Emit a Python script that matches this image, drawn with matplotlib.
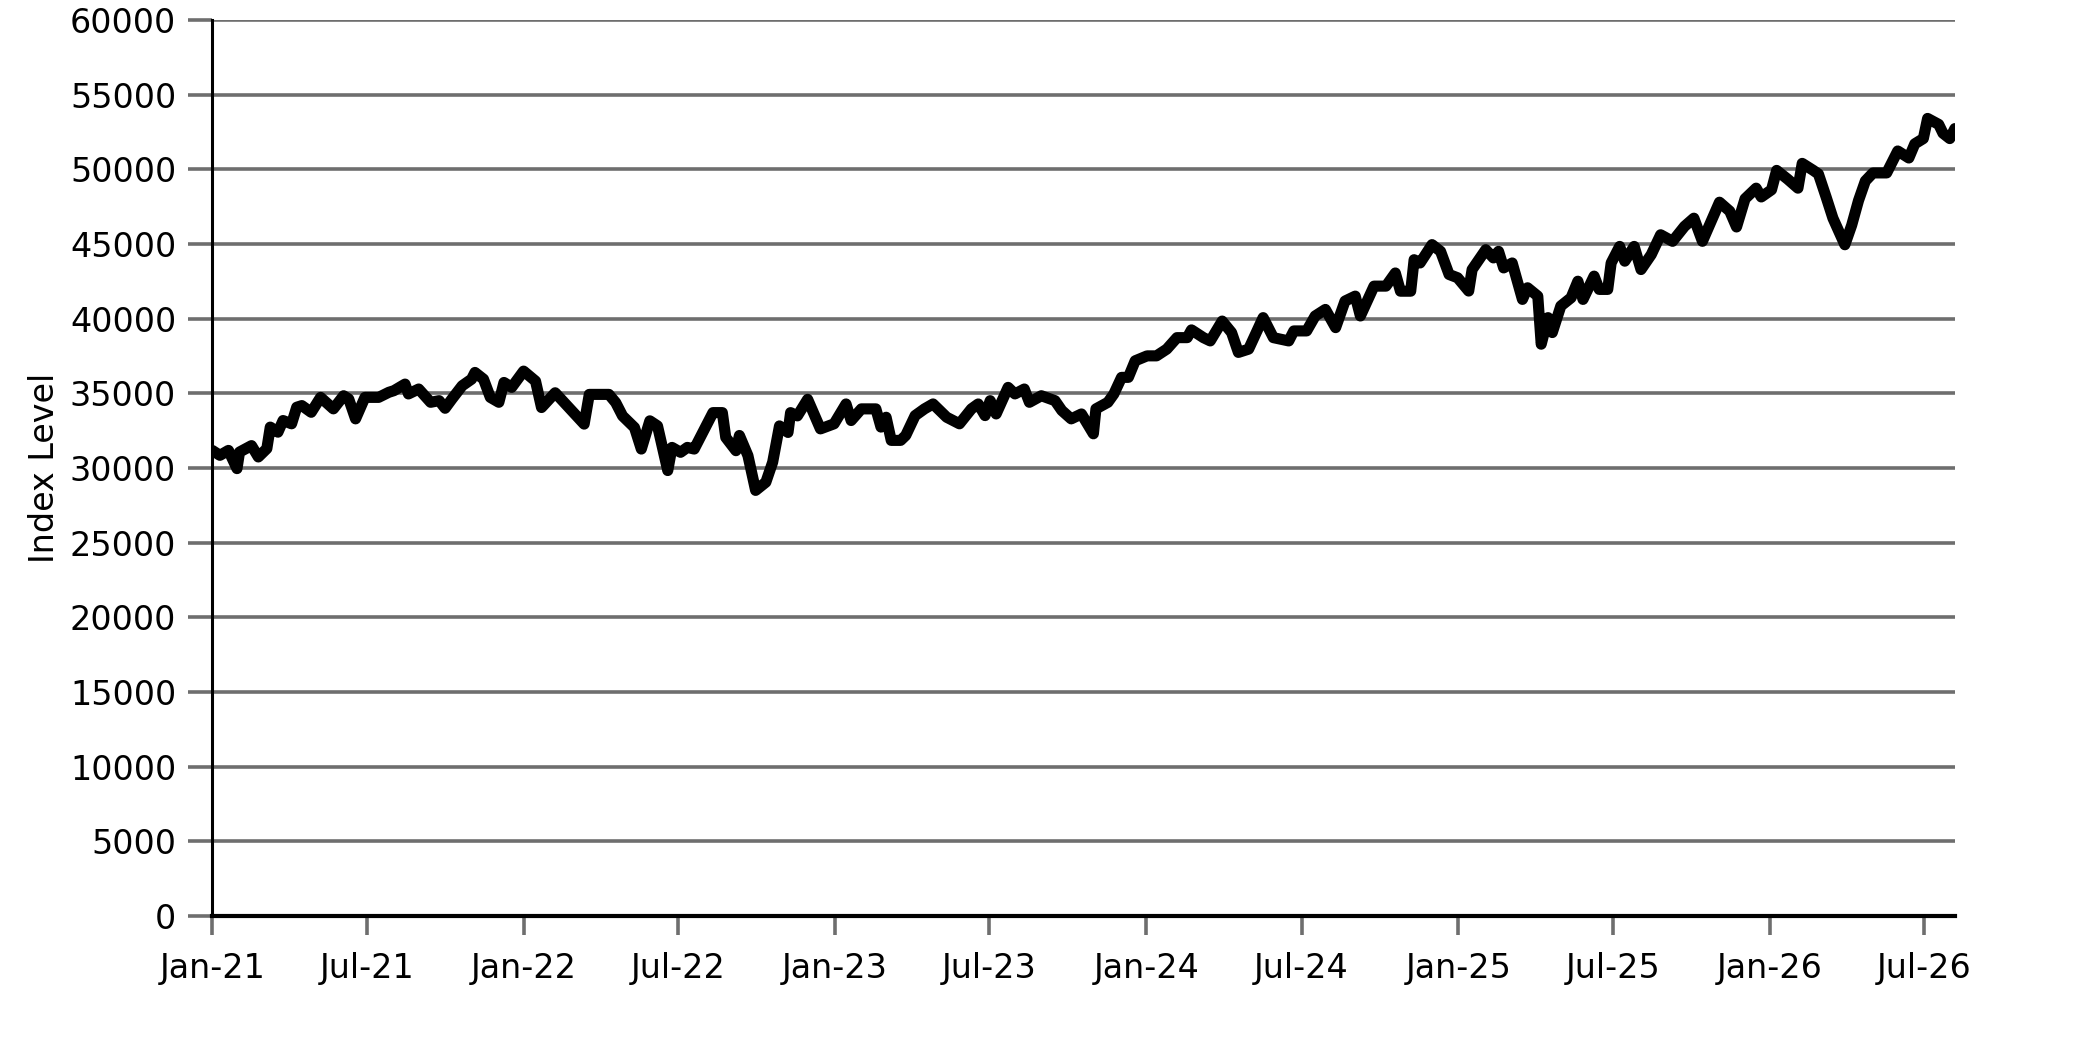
import matplotlib
matplotlib.use("Agg")
import matplotlib.pyplot as plt
import matplotlib.dates as mdates
import numpy as np
import pandas as pd

# days since 2021-01-01
day_offsets = [
    0, 9, 19, 29, 32, 46, 54, 64, 68, 77, 83, 93, 99, 105, 116, 127, 142, 154, 160, 168,
    179, 195, 207, 213, 226, 230, 242, 256, 266, 273, 281, 293, 304, 308, 318, 326, 336, 342, 351,
    365, 379, 386, 402, 436, 442, 465, 473, 481, 495, 503, 513, 522, 534, 539, 549, 557, 565,
    578, 587, 598, 602, 614, 618, 628, 637, 649, 657, 665, 675, 678, 686, 698,
    713, 729, 743, 749, 761, 778, 784, 790, 796, 807, 813, 824, 835, 845, 861, 876, 890, 898,
    906, 912, 919, 933, 941, 952, 958, 972, 988, 996, 1007, 1019, 1033, 1036, 1050,
    1057, 1066, 1074, 1082, 1096, 1107, 1119, 1131, 1143, 1148, 1162, 1170, 1184, 1195, 1203,
    1215, 1232, 1244, 1262, 1268, 1283, 1293, 1305, 1317, 1328, 1340, 1346, 1362, 1376, 1387,
    1393, 1405, 1409, 1416, 1430, 1440, 1450, 1460, 1473, 1477, 1493, 1502, 1508, 1514, 1524,
    1536, 1542, 1554, 1558, 1566, 1571, 1581, 1593, 1601, 1607, 1620, 1626, 1636, 1640, 1650,
    1656, 1667, 1675, 1687, 1698, 1712, 1726, 1737, 1747, 1767, 1779, 1787, 1797, 1810, 1816,
    1828, 1834, 1847, 1859, 1864, 1877, 1883, 1892, 1900, 1914, 1922, 1930, 1938, 1947, 1963,
    1976, 1989, 1996, 2006, 2011, 2024, 2029, 2037, 2043,
]
index_values = [
    31180, 30850, 31180, 29960, 31070, 31500, 30740, 31300, 32740, 32400, 33180, 32960, 34070, 34180, 33730, 34730, 33960, 34840, 34620, 33290,
    34730, 34730, 35070, 35180, 35620, 34960, 35290, 34400, 34510, 34000, 34620, 35510, 35950, 36400, 35950, 34730, 34400, 35730, 35400,
    36490, 35820, 34050, 35040, 32940, 34930, 34930, 34380, 33490, 32710, 31270, 33160, 32820, 29830, 31380, 31050, 31380, 31270,
    32710, 33710, 33710, 32050, 31160, 32180, 30830, 28500, 29050, 30390, 32820, 32380, 33710, 33490, 34600,
    32620, 32960, 34290, 33180, 33960, 33960, 32740, 33400, 31850, 31850, 32180, 33510, 33960, 34290, 33400, 32960, 33960, 34290,
    33510, 34510, 33620, 35400, 34960, 35290, 34400, 34840, 34510, 33850, 33290, 33620, 32290, 33960, 34400,
    34960, 36070, 36070, 37180, 37510, 37510, 37960, 38730, 38730, 39250, 38730, 38510, 39840, 39070, 37740,
    37960, 40070, 38730, 38510, 39180, 39180, 40180, 40620, 39400, 41180, 41510, 40180, 42180, 42180, 43060,
    41840, 41840, 43950, 43730, 44960, 44510, 42960, 42740, 41850, 43290, 44620, 44070, 44510, 43400, 43730,
    41290, 42070, 41510, 38290, 40070, 39070, 40850, 41400, 42510, 41290, 42850, 41960, 41960, 43730, 44840,
    43850, 44840, 43290, 44290, 45620, 45180, 46180, 46730, 45180, 47800, 47200, 46140, 48030, 48740, 48150,
    48630, 49930, 49340, 48740, 50400, 49930, 49690, 48150, 46730, 44950, 46260, 47910, 49220, 49760, 49760,
    51230, 50760, 51710, 52060, 53410, 53010, 52420, 52060, 52730,
]

y_ticks = np.arange(0, 60001, 5000)

dates = pd.Timestamp("2021-01-01") + pd.to_timedelta(day_offsets, unit="D")

plt.rcParams['font.family'] = ['DejaVu Sans']
fig = plt.figure(figsize=(20.83, 10.42), dpi=100)
ax = fig.add_axes([0.1019, 0.1209, 0.8366, 0.8599])

grid_col = '#6e6e6e'
ax.set_ylim(0, 60000)
ax.set_yticks(y_ticks)
ax.yaxis.grid(True, color=grid_col, linewidth=2.6)
ax.set_axisbelow(True)

ax.plot(dates, index_values, color='black', linewidth=8, solid_joinstyle='round', solid_capstyle='round', zorder=3)
ax.set_xlim(dates[0], dates[-1])

ax.xaxis.set_major_locator(mdates.MonthLocator(bymonth=[1, 7]))
ax.xaxis.set_major_formatter(mdates.DateFormatter('%b-%y'))

for s in ['top', 'right']:
    ax.spines[s].set_visible(False)
ax.spines['left'].set_linewidth(2.2)
ax.spines['bottom'].set_linewidth(3)

ax.tick_params(axis='y', length=17, width=2.6, color=grid_col, labelsize=24, pad=9)
ax.tick_params(axis='x', length=14, width=2.6, color=grid_col, labelsize=24, pad=12)

ax.set_ylabel('Index Level', fontsize=24)
ax.yaxis.set_label_coords(-0.087, 0.5)

fig.savefig('out.png', dpi=100)
